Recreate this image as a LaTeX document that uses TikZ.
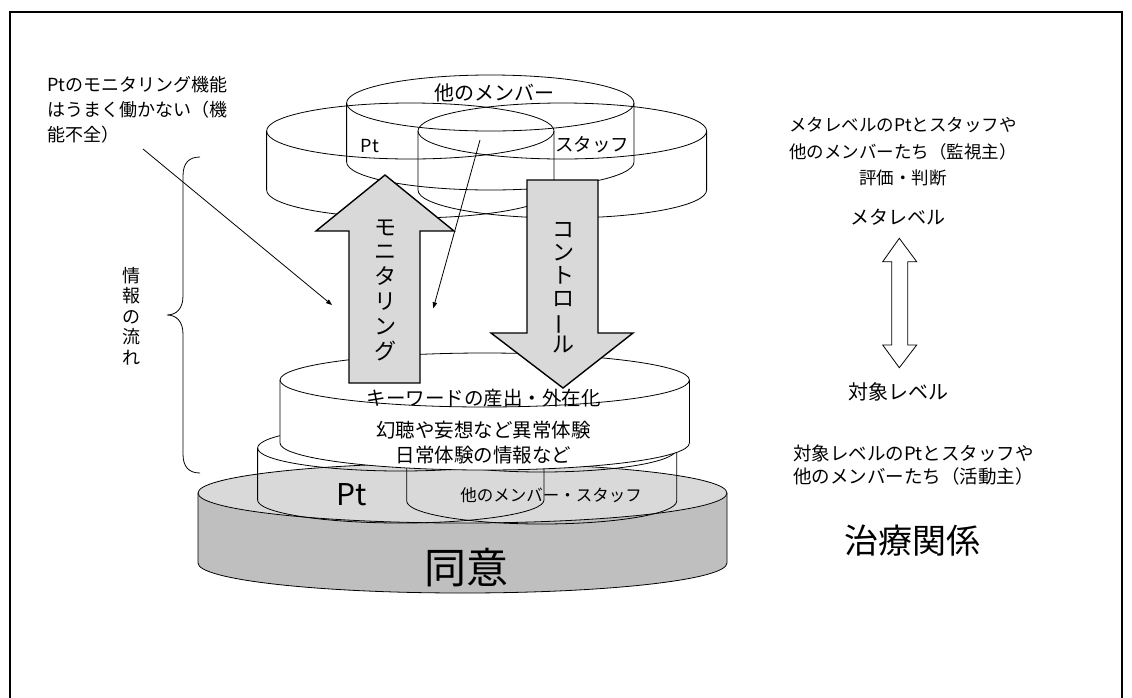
\documentclass[tikz,border=0pt]{standalone}
\usepackage{fontspec}
\usepackage{graphicx}
\setmainfont{Noto Sans CJK JP}
\usetikzlibrary{arrows.meta}
\definecolor{basetop}{RGB}{217,217,217}
\definecolor{baseside}{RGB}{191,191,191}
\definecolor{arrowgray}{RGB}{217,217,217}
\newcommand{\myfs}[2]{\fontsize{#1pt}{#2pt}\selectfont}
\newcommand{\cylout}[5]{%
  \draw[cylline] (#1,#2) ellipse [x radius=#3, y radius=#4];
  \draw[cylline] ({#1-#3},#2) -- ({#1-#3},#5) arc[start angle=180, end angle=0, x radius=#3, y radius=#4] -- ({#1+#3},#2);
}
\newcommand{\cylfill}[6]{%
  \fill[#6] ({#1-#3},#2) -- ({#1-#3},#5) arc[start angle=180, end angle=0, x radius=#3, y radius=#4] -- ({#1+#3},#2) arc[start angle=0, end angle=180, x radius=#3, y radius=#4] -- cycle;
}
\newcommand{\vbar}{\rotatebox[origin=c]{90}{ー}}
\begin{document}
\begin{tikzpicture}[x=1pt,y=-1pt,
  cylline/.style={line width=0.8pt},
  frameline/.style={line width=1.6pt},
  arrowbox/.style={fill=arrowgray,draw=black,line width=1.4pt,line join=miter},
  hollow/.style={fill=white,draw=black,line width=0.8pt},
  thinarrow/.style={line width=0.8pt,-{Triangle[length=6pt,width=4.5pt]}},
  txt/.style={inner sep=0pt,align=center}]
\useasboundingbox (0,0) rectangle (1132,697);
\fill[white] (0,0) rectangle (1132,697);
\draw[frameline] (10,700) -- (10,12) -- (1122,12) -- (1122,700);

% top cylinders (transparent)
\cylout{490.3}{103}{143.7}{28}{162}
\cylout{410.3}{131}{143.7}{28}{190}
\cylout{562.3}{131}{144.3}{28}{190}

% base cylinder
\cylfill{462.5}{493}{264.5}{30}{563}{baseside}
\draw[cylline] (198,493) -- (198,563) arc[start angle=180, end angle=0, x radius=264.5, y radius=30] -- (727,493);
\filldraw[cylline,fill=basetop] (462.5,493) ellipse [x radius=264.5, y radius=30];

% middle cylinders (transparent)
\cylout{400.8}{448}{143.2}{23}{500}
\cylout{541.7}{449}{135}{23}{501}

% white cylinder
\cylfill{484.7}{380}{204.7}{27}{443}{white}
\fill[white] (484.7,380) ellipse [x radius=204.7, y radius=27];
\cylout{484.7}{380}{204.7}{27}{443}

% big arrows
\filldraw[arrowbox] (349,383) -- (349,231) -- (316,231) -- (385,175) -- (454,231) -- (420,231) -- (420,383) -- cycle;
\filldraw[arrowbox] (527,180) -- (598,180) -- (598,333) -- (633,333) -- (563,388) -- (491,333) -- (527,333) -- cycle;

% double arrow
\filldraw[hollow] (899.3,238.3) -- (916.7,261.7) -- (907.7,261.7) -- (907.7,345) -- (916.7,345) -- (899.3,367.7) -- (882.7,345) -- (891.7,345) -- (891.7,261.7) -- (882.7,261.7) -- cycle;

% brace
\draw[line width=0.8pt] (200,157) .. controls (189,157) and (183,163) .. (183,176) -- (183,296) .. controls (183,309) and (176,315) .. (167,315) .. controls (176,315) and (183,321) .. (183,334) -- (183,454) .. controls (183,467) and (189,473) .. (200,473);

% texts
\node[txt,font=\myfs{20}{24}] (othtop) at (494,93) {他のメンバー};
\node[txt,font=\myfs{18}{22}] (pttop) at (370,146) {Pt};
\node[txt,font=\myfs{18.5}{22}] (stftop) at (592,145) {スタッフ};

\node[txt,font=\myfs{22}{24.8}] (mon) at (385,290) {モ\\ニ\\タ\\リ\\ン\\グ};
\node[txt,font=\myfs{22}{23}] (ctl) at (563,287.5) {コ\\ン\\ト\\ロ\\\vbar\\ル};

\node[txt,font=\myfs{19.5}{24}] (kw) at (483.5,398.3) {キーワードの産出・外在化};
\node[txt,font=\myfs{19.5}{25}] (exp) at (483.5,442.5) {幻聴や妄想など異常体験\\日常体験の情報など};

\node[txt,font=\myfs{30}{34}] (ptmid) at (351.7,495) {Pt};
\node[txt,font=\myfs{16.5}{20}] (othmid) at (551,495) {他のメンバー・スタッフ};
\node[txt,font=\myfs{42}{46}] (agree) at (466.7,568) {同意};

\node[txt,align=left,anchor=west,font=\myfs{18}{25}] (ptmonfail) at (47,110) {Ptのモニタリング機能\\はうまく働かない（機\\能不全）};
\node[txt,font=\myfs{18}{20.4}] (flow) at (131.7,316) {情\\報\\の\\流\\れ};

\node[txt,font=\myfs{17.5}{26.5}] (meta3) at (903,151.7) {メタレベルのPtとスタッフや\\他のメンバーたち（監視主）\\評価・判断};
\node[txt,font=\myfs{19}{22}] (metalv) at (898,216.7) {メタレベル};
\node[txt,font=\myfs{20}{22}] (objlv) at (898,391.7) {対象レベル};
\node[txt,font=\myfs{18.5}{23.4}] (obj2) at (913.5,465) {対象レベルのPtとスタッフや\\他のメンバーたち（活動主）};
\node[txt,font=\myfs{34}{38}] (rel) at (912,541) {治療関係};

% thin arrows
\coordinate (m1s) at (143,149);
\coordinate (m1e) at (332,305);
\coordinate (m2s) at (480,140);
\coordinate (m2e) at (433.3,308.3);
\draw[thinarrow] (m1s) -- (m1e);
\draw[thinarrow] (m2s) -- (m2e);
\end{tikzpicture}
\end{document}
